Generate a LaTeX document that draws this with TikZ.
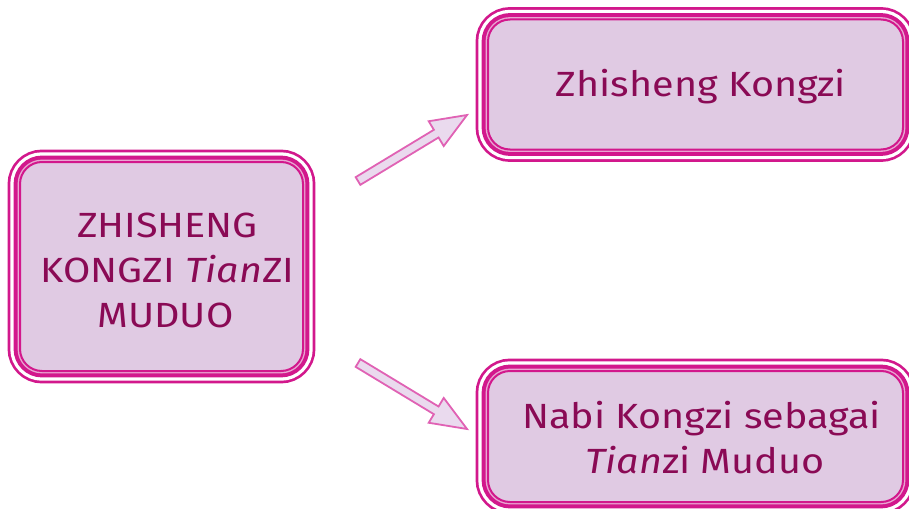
\documentclass[tikz,border=0pt]{standalone}
\usepackage{fontspec}
\setmainfont[FakeStretch=1.13]{Fira Sans}
\usetikzlibrary{calc}
\definecolor{mag}{HTML}{D2188C}
\definecolor{palepink}{HTML}{E9A6D2}
\definecolor{lav}{HTML}{E0CAE3}
\definecolor{textc}{HTML}{8A0A55}
\definecolor{arrline}{HTML}{E062B4}
\definecolor{arrfill}{HTML}{EADAEE}
\newcommand\tallstrut{\rule{0pt}{32pt}}
\tikzset{
  tribox/.style={rounded corners=22pt, inner sep=0pt, align=center,
    text=textc, font=\fontsize{35}{45}\selectfont,
    preaction={draw=mag, line width=24.8pt},
    preaction={draw=white, line width=19.4pt},
    preaction={draw=mag, line width=12.8pt},
    preaction={draw=palepink, line width=4.8pt},
    fill=lav, draw=mag, line width=2pt},
  fatarrow/.style={draw=arrline, fill=arrfill, line width=1.8pt, line join=miter}
}
\newcommand\fatarrowdraw[2]{%
  \coordinate (hb) at ($(#2)!36pt!(#1)$);
  \draw[fatarrow] ($(#1)!4.5pt!90:(#2)$) -- ($(hb)!4.5pt!90:(#2)$) -- ($(hb)!14.5pt!90:(#2)$)
    -- (#2) -- ($(hb)!14.5pt!-90:(#2)$) -- ($(hb)!4.5pt!-90:(#2)$) -- ($(#1)!4.5pt!-90:(#2)$) -- cycle;}
\begin{document}
\begin{tikzpicture}[x=1pt, y=-1pt]
  \useasboundingbox (0,0) rectangle (909,508);
  \clip (0,0) rectangle (909,508);
  \node[tribox, minimum width=283pt, minimum height=209pt] (main) at (161.5,266.5)
    {\tallstrut\hspace{12pt}ZHISHENG\\\hspace{12pt}KONGZI \textit{Tian}ZI\\\hspace{8pt}MUDUO};
  \node[tribox, minimum width=415pt, minimum height=130pt] (top) at (695.5,84.5)
    {\tallstrut\hspace{11pt}Zhisheng Kongzi};
  \node[tribox, minimum width=415pt, minimum height=131pt] (bot) at (695.5,436.5)
    {\rule{0pt}{30pt}\hspace{12pt}Nabi Kongzi sebagai\\\hspace{19pt}\textit{Tian}zi Muduo};
  \coordinate (a1) at (358,181);
  \coordinate (b1) at (467,115);
  \coordinate (a2) at (358,363);
  \coordinate (b2) at (467,429);
  \fatarrowdraw{a1}{b1}
  \fatarrowdraw{a2}{b2}
\end{tikzpicture}
\end{document}
